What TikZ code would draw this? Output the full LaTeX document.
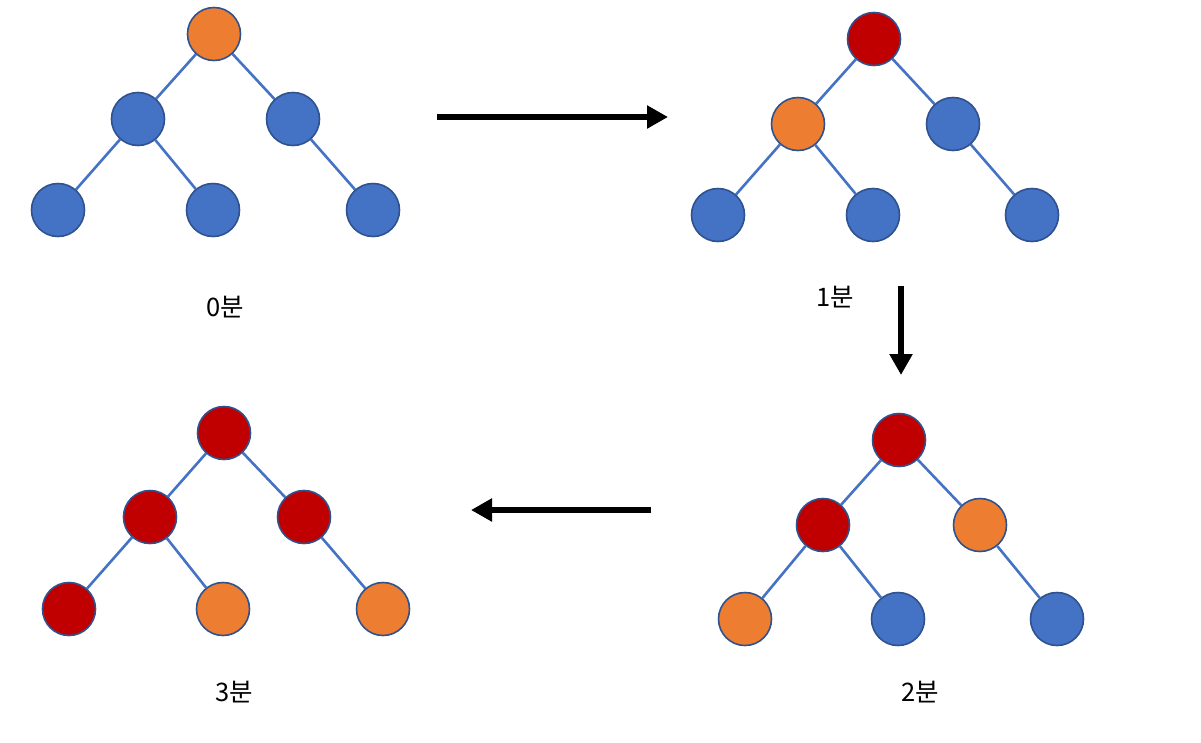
\documentclass[tikz,border=0pt]{standalone}
\usepackage{fontspec}
\setmainfont{Noto Sans CJK KR}
\usetikzlibrary{arrows.meta}
\definecolor{nblue}{HTML}{4472C4}
\definecolor{norange}{HTML}{ED7D31}
\definecolor{nred}{HTML}{C00000}
\definecolor{nborder}{HTML}{2F528F}
\tikzset{
  nd/.style={circle, draw=nborder, line width=1.6pt, minimum size=53pt, inner sep=0pt},
  bl/.style={nd, fill=nblue},
  orn/.style={nd, fill=norange},
  rd/.style={nd, fill=nred},
  edge/.style={draw=nblue, line width=2.6pt},
  bigarrow/.style={line width=6pt, -{Triangle[length=21pt,width=22pt]}},
  lbl/.style={font=\fontsize{25.5}{30}\selectfont, inner sep=0pt}
}
\begin{document}
\begin{tikzpicture}[x=1pt,y=-1pt]
\useasboundingbox (0,0) rectangle (1201,742);
% Tree 0
\node[orn] (a0) at (214,34) {};
\node[bl] (a1) at (138,119) {};
\node[bl] (a2) at (293,119) {};
\node[bl] (a3) at (58,210) {};
\node[bl] (a4) at (213,210) {};
\node[bl] (a5) at (373,210) {};
\node[lbl] (t0) at (225,307) {0분};
% Tree 1
\node[rd] (b0) at (874,39) {};
\node[orn] (b1) at (798,124) {};
\node[bl] (b2) at (953,124) {};
\node[bl] (b3) at (718,215) {};
\node[bl] (b4) at (873,215) {};
\node[bl] (b5) at (1032,215) {};
\node[lbl] (t1) at (835,297) {1분};
% Tree 2
\node[rd] (c0) at (899,440) {};
\node[rd] (c1) at (823,525) {};
\node[orn] (c2) at (980,525) {};
\node[orn] (c3) at (745,619) {};
\node[bl] (c4) at (898,619) {};
\node[bl] (c5) at (1057,619) {};
\node[lbl] (t2) at (920,692) {2분};
% Tree 3
\node[rd] (d0) at (224,433) {};
\node[rd] (d1) at (150,517) {};
\node[rd] (d2) at (304,517) {};
\node[rd] (d3) at (69,609) {};
\node[orn] (d4) at (223,609) {};
\node[orn] (d5) at (383,609) {};
\node[lbl] (t3) at (234,692) {3분};
% edges
\foreach \t in {a,b,c,d}{
  \draw[edge] (\t0) -- (\t1);
  \draw[edge] (\t0) -- (\t2);
  \draw[edge] (\t1) -- (\t3);
  \draw[edge] (\t1) -- (\t4);
  \draw[edge] (\t2) -- (\t5);
}
% arrows
\coordinate (h1s) at (437,117);
\coordinate (h1e) at (668,117);
\coordinate (v1s) at (901,286);
\coordinate (v1e) at (901,375);
\coordinate (h2s) at (651,510);
\coordinate (h2e) at (471,510);
\draw[bigarrow] (h1s) -- (h1e);
\draw[bigarrow] (v1s) -- (v1e);
\draw[bigarrow] (h2s) -- (h2e);
\end{tikzpicture}
\end{document}
